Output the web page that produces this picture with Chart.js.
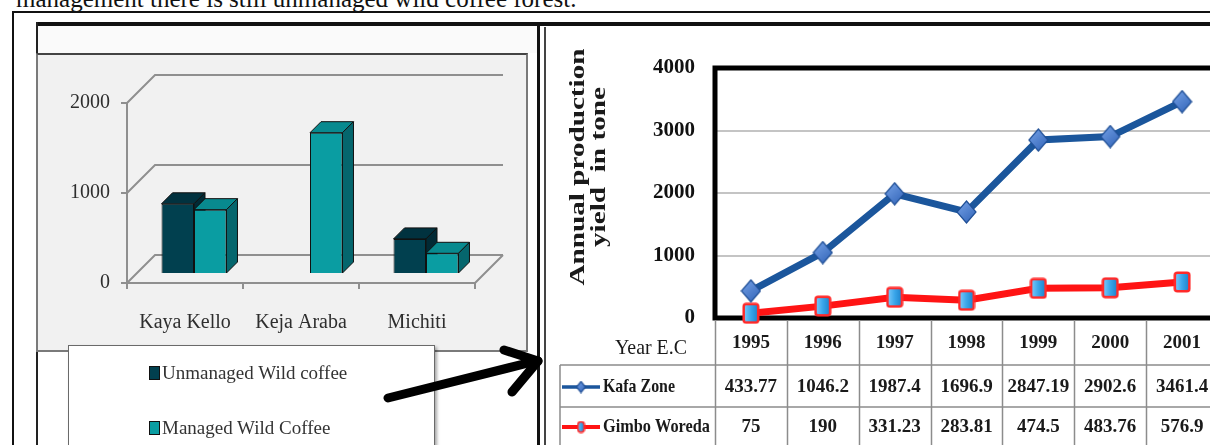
<!DOCTYPE html>
<html>
<head>
<meta charset="utf-8">
<script src="https://cdn.jsdelivr.net/npm/chart.js@4.4.1/dist/chart.umd.min.js"></script>
<style>
  html, body { margin: 0; padding: 0; }
  body { width: 1210px; height: 445px; overflow: hidden; position: relative; background: #fff;
         font-family: 'Liberation Serif', 'Times New Roman', serif; }
  .abs { position: absolute; box-sizing: border-box; }
  #caption { left: 16px; top: -14px; font-size: 25px; line-height: 25px; color: #111; white-space: nowrap; }
  #outer { left: 12px; top: 11px; width: 1250px; height: 500px; border: 2px solid #111; }
  #topRule { left: 36px; top: 22px; width: 1200px; height: 4px; background: #111; }
  #leftFrame { left: 36px; top: 22px; width: 2px; height: 500px; background: #222; }
  #headStrip { left: 38px; top: 26px; width: 500px; height: 27px; background: #fafafa; }
  #chartBox { left: 36px; top: 53px; width: 492px; height: 299px; background: #f1f1f1;
              border: 2px solid #7a7a7a; border-top-color: #444; }
  #bars { left: 38px; top: 55px; }
  #midRuleA { left: 537px; top: 22px; width: 3px; height: 500px; background: #111; }
  #midRuleB { left: 544px; top: 27px; width: 2px; height: 500px; background: #444; }
  #legend { left: 68px; top: 345px; width: 367px; height: 130px; background: #fff;
            border: 1.5px solid #6a6a6a; box-shadow: 2px 2px 3px rgba(0,0,0,0.35); }
  .item { position: absolute; left: 80px; font-size: 19px; color: #333; white-space: nowrap; line-height: 20px; }
  .swatch { display: inline-block; width: 11px; height: 14px; border: 1px solid #111; box-sizing: border-box;
            vertical-align: -1px; margin-right: 2px; }
  #lines { left: 545px; top: 25px; }
  #arrow { left: 0; top: 0; }
</style>
</head>
<body>
<div id="caption" class="abs">management there is still unmanaged wild coffee forest.</div>
<div id="outer" class="abs"></div>
<div id="topRule" class="abs"></div>
<div id="leftFrame" class="abs"></div>
<div id="headStrip" class="abs"></div>
<div id="chartBox" class="abs"></div>
<canvas id="bars" class="abs" width="488" height="295"></canvas>
<div id="midRuleA" class="abs"></div>
<div id="midRuleB" class="abs"></div>
<div id="legend" class="abs"></div>
<canvas id="lines" class="abs" width="690" height="422"></canvas>
<svg id="arrow" class="abs" width="1210" height="445" style="pointer-events:none">
  <g stroke="#000" stroke-width="9" stroke-linecap="round" fill="none">
    <line x1="388" y1="398" x2="536" y2="361"/>
    <line x1="504" y1="350" x2="538" y2="361"/>
    <line x1="512" y1="392" x2="538" y2="361"/>
  </g>
</svg>

<script>
// ---- wild coffee by site (3D column chart) ----
const sites = ['Kaya Kello', 'Keja Araba', 'Michiti'];
const unmanagedWild = [780, 0, 390];
const managedWild = [715, 1570, 230];
const siteTicks = [0, 1000, 2000];

// ---- annual production by year (line chart + data table) ----
const years = ['1995', '1996', '1997', '1998', '1999', '2000', '2001'];
const kafaZone = [433.77, 1046.2, 1987.4, 1696.9, 2847.19, 2902.6, 3461.4];
const gimboWoreda = [75, 190, 331.23, 283.81, 474.5, 483.76, 576.9];
const yieldTicks = [0, 1000, 2000, 3000, 4000];

const SERIF = "'Liberation Serif', 'Times New Roman', serif";
const plainNumber = v => String(v);

// colour sets for the columns: front, top, side
const columnColors = [
  { name: 'Unmanaged Wild coffee', front: '#01404f', top: '#01323f', side: '#012a35' },
  { name: 'Managed Wild Coffee',   front: '#0a9da2', top: '#088a8f', side: '#05666d' }
];

// legend built from the series names and colours
const legendEl = document.getElementById('legend');
columnColors.forEach((c, i) => {
  const d = document.createElement('div');
  d.className = 'item';
  d.style.top = (i === 0 ? 17 : 72) + 'px';
  d.innerHTML = '<span class="swatch" style="background:' + c.front + '"></span>' + c.name;
  legendEl.appendChild(d);
});

// ---- 3D look: back wall, side wall, floor and column depth ----
const WALL = 28;   // depth of the plot box
const SHIFT = 9;   // columns sit in the middle of the box
const BAR_D = 11;  // depth of each column

function poly(ctx, pts, fill) {
  ctx.beginPath();
  ctx.moveTo(pts[0][0], pts[0][1]);
  for (let k = 1; k < pts.length; k++) ctx.lineTo(pts[k][0], pts[k][1]);
  ctx.closePath();
  ctx.fillStyle = fill;
  ctx.fill();
  ctx.stroke();
}

const depthPlugin = {
  id: 'depth3d',
  beforeDatasetsDraw(chart) {
    const { ctx, chartArea: a, scales: { y } } = chart;
    ctx.save();
    ctx.strokeStyle = '#8f8f8f';
    ctx.lineWidth = 2;
    ctx.beginPath();
    siteTicks.forEach(v => {
      const py = y.getPixelForValue(v);
      ctx.moveTo(a.left, py);
      ctx.lineTo(a.left + WALL, py - WALL);
      ctx.lineTo(a.right + WALL, py - WALL);
    });
    const p0 = y.getPixelForValue(0);
    ctx.moveTo(a.right, p0);
    ctx.lineTo(a.right + WALL, p0 - WALL);
    ctx.stroke();
    ctx.restore();

    // shifted drawing context for the columns (restored after datasets)
    ctx.save();
    ctx.translate(SHIFT, -SHIFT);
    ctx.strokeStyle = '#111';
    ctx.lineWidth = 1;
    chart.data.datasets.forEach((ds, di) => {
      const meta = chart.getDatasetMeta(di);
      meta.data.forEach((bar, i) => {
        if (!ds.data[i]) return;
        const p = bar.getProps(['x', 'y', 'base', 'width'], true);
        const l = p.x - p.width / 2, r = p.x + p.width / 2, t = p.y, b = p.base;
        poly(ctx, [[l, t], [l + BAR_D, t - BAR_D], [r + BAR_D, t - BAR_D], [r, t]], columnColors[di].top);
        poly(ctx, [[r, t], [r + BAR_D, t - BAR_D], [r + BAR_D, b - BAR_D], [r, b]], columnColors[di].side);
      });
    });
  },
  afterDatasetsDraw(chart) {
    chart.ctx.restore();
  }
};

new Chart(document.getElementById('bars'), {
  type: 'bar',
  data: {
    labels: sites,
    datasets: [
      { label: columnColors[0].name, data: unmanagedWild, backgroundColor: columnColors[0].front,
        borderColor: '#111', borderWidth: 1, categoryPercentage: 0.56, barPercentage: 1.0 },
      { label: columnColors[1].name, data: managedWild, backgroundColor: columnColors[1].front,
        borderColor: '#111', borderWidth: 1, categoryPercentage: 0.56, barPercentage: 1.0 }
    ]
  },
  options: {
    responsive: false,
    animation: false,
    layout: { padding: { top: 48, right: 51, left: 0, bottom: 0 } },
    plugins: { legend: { display: false }, tooltip: { enabled: false } },
    scales: {
      x: {
        grid: { drawOnChartArea: false, color: '#8f8f8f', lineWidth: 2, tickLength: 6 },
        border: { color: '#8f8f8f', width: 2 },
        ticks: { color: '#2e2e2e', font: { family: SERIF, size: 20 }, padding: 22, maxRotation: 0 },
        afterFit: s => { s.height = 67; }
      },
      y: {
        min: siteTicks[0], max: siteTicks[siteTicks.length - 1],
        grid: { drawOnChartArea: false, color: '#8f8f8f', lineWidth: 2, tickLength: 6 },
        border: { color: '#8f8f8f', width: 2 },
        ticks: { stepSize: 1000, color: '#2e2e2e', font: { family: SERIF, size: 20 }, padding: 11,
                 callback: plainNumber },
        afterFit: s => { s.width = 89; }
      }
    }
  },
  plugins: [depthPlugin]
});

// ---- point markers ----
function diamondMarker(w, h) {
  const c = document.createElement('canvas');
  c.width = w; c.height = h;
  const g = c.getContext('2d');
  const grad = g.createLinearGradient(0, 0, w, h);
  grad.addColorStop(0, '#7aa6ea');
  grad.addColorStop(1, '#2c5fb4');
  g.beginPath();
  g.moveTo(w / 2, 1); g.lineTo(w - 1, h / 2); g.lineTo(w / 2, h - 1); g.lineTo(1, h / 2);
  g.closePath();
  g.fillStyle = grad; g.fill();
  g.strokeStyle = '#1f4f96'; g.lineWidth = 1.2; g.stroke();
  return c;
}
function squareMarker(w, h, lw) {
  const c = document.createElement('canvas');
  c.width = w; c.height = h;
  const g = c.getContext('2d');
  const grad = g.createLinearGradient(0, 0, w, 0);
  grad.addColorStop(0, '#8fd3ff');
  grad.addColorStop(0.5, '#3aa6ea');
  grad.addColorStop(1, '#1679c4');
  const m = lw / 2 + 0.5;
  g.beginPath();
  g.roundRect(m, m, w - 2 * m, h - 2 * m, 2.5);
  g.fillStyle = grad; g.fill();
  g.strokeStyle = '#ff2a2a'; g.lineWidth = lw; g.stroke();
  return c;
}
const diamondBig = diamondMarker(21, 24);
const squareBig = squareMarker(18, 22, 2.5);
const diamondSmall = diamondMarker(11, 13);
const squareSmall = squareMarker(9, 13, 1.8);

const KAFA_COLOR = '#1b569c';
const GIMBO_COLOR = '#ff1414';

// thick frame around the plotting area
const framePlugin = {
  id: 'plotFrame',
  beforeDatasetsDraw(chart) {
    const { ctx, chartArea: a } = chart;
    ctx.save();
    ctx.strokeStyle = '#000';
    ctx.lineWidth = 5;
    ctx.lineCap = 'square';
    ctx.beginPath();
    ctx.moveTo(a.right + 30, a.top);
    ctx.lineTo(a.left, a.top);
    ctx.lineTo(a.left, a.bottom);
    ctx.lineTo(a.right + 30, a.bottom);
    ctx.stroke();
    ctx.restore();
  }
};

function fitText(ctx, text, cx, cy, length, rotate) {
  ctx.save();
  ctx.translate(cx, cy);
  if (rotate) ctx.rotate(-Math.PI / 2);
  const w = ctx.measureText(text).width;
  ctx.scale(length / w, 1);
  ctx.textAlign = 'center';
  ctx.textBaseline = 'middle';
  ctx.fillText(text, 0, 0);
  ctx.restore();
}

// two-line rotated axis title
const titlePlugin = {
  id: 'yieldTitle',
  afterDraw(chart) {
    const ctx = chart.ctx;
    ctx.save();
    ctx.fillStyle = '#1a1a1a';
    ctx.font = 'bold 20px ' + SERIF;
    fitText(ctx, 'Annual production', 34, 142, 237, true);
    fitText(ctx, 'yield  in tone', 55, 142, 160, true);
    ctx.restore();
  }
};

// data table under the plot, aligned with the category scale
const tablePlugin = {
  id: 'dataTable',
  afterDraw(chart) {
    const { ctx, chartArea: a, scales: { x } } = chart;
    const colW = x.getPixelForValue(1) - x.getPixelForValue(0);
    const left0 = x.getPixelForValue(0) - colW / 2;
    const tableLeft = 15;
    const rowTop = [a.bottom, 340, 382, 424];
    ctx.save();
    ctx.strokeStyle = '#8c8c8c';
    ctx.lineWidth = 1.5;
    ctx.beginPath();
    for (let i = 0; i <= years.length; i++) {
      const px = Math.round(left0 + i * colW) + 0.5;
      ctx.moveTo(px, a.bottom + 2);
      ctx.lineTo(px, rowTop[3] + 5);
    }
    ctx.moveTo(tableLeft, rowTop[1]); ctx.lineTo(tableLeft, rowTop[3] + 5);
    [rowTop[1], rowTop[2], rowTop[3]].forEach(yy => {
      ctx.moveTo(tableLeft, yy); ctx.lineTo(chart.width, yy);
    });
    ctx.stroke();

    ctx.fillStyle = '#1a1a1a';
    ctx.textAlign = 'center';
    ctx.textBaseline = 'middle';

    // header row
    ctx.font = '22px ' + SERIF;
    fitText(ctx, 'Year E.C', 106, 323, 72, false);
    ctx.font = 'bold 19px ' + SERIF;
    years.forEach((yr, i) => ctx.fillText(yr, x.getPixelForValue(i), 318, colW - 8));

    // series rows
    const rows = [
      { name: 'Kafa Zone', values: kafaZone, color: KAFA_COLOR, mark: diamondSmall, lw: 3.5, cy: 362, nameW: 72 },
      { name: 'Gimbo Woreda', values: gimboWoreda, color: GIMBO_COLOR, mark: squareSmall, lw: 4, cy: 402, nameW: 107 }
    ];
    rows.forEach(r => {
      ctx.strokeStyle = r.color;
      ctx.lineWidth = r.lw;
      ctx.beginPath();
      ctx.moveTo(17, r.cy); ctx.lineTo(55, r.cy);
      ctx.stroke();
      ctx.drawImage(r.mark, 36 - r.mark.width / 2, r.cy - r.mark.height / 2);
      ctx.font = 'bold 19px ' + SERIF;
      ctx.save();
      ctx.translate(58, r.cy);
      const w = ctx.measureText(r.name).width;
      ctx.scale(r.nameW / w, 1);
      ctx.textAlign = 'left';
      ctx.fillText(r.name, 0, 0);
      ctx.restore();
      r.values.forEach((v, i) => ctx.fillText(String(v), x.getPixelForValue(i), r.cy, colW - 6));
    });
    ctx.restore();
  }
};

new Chart(document.getElementById('lines'), {
  type: 'line',
  data: {
    labels: years,
    datasets: [
      { label: 'Kafa Zone', data: kafaZone, borderColor: KAFA_COLOR, borderWidth: 7,
        pointStyle: diamondBig, pointRadius: 10, tension: 0, clip: false },
      { label: 'Gimbo Woreda', data: gimboWoreda, borderColor: GIMBO_COLOR, borderWidth: 7,
        pointStyle: squareBig, pointRadius: 10, tension: 0, clip: false }
    ]
  },
  options: {
    responsive: false,
    animation: false,
    layout: { padding: { top: 43, right: 16, bottom: 129, left: 0 } },
    plugins: { legend: { display: false }, tooltip: { enabled: false } },
    scales: {
      x: { display: false, offset: true },
      y: {
        min: yieldTicks[0], max: yieldTicks[yieldTicks.length - 1],
        ticks: { stepSize: 1000, padding: 20, color: '#111', font: { family: SERIF, size: 21, weight: 'bold' },
                 callback: plainNumber },
        grid: {
          drawTicks: false, lineWidth: 2,
          color: c => (c.tick && c.tick.value > yieldTicks[0] && c.tick.value < yieldTicks[yieldTicks.length - 1]) ? '#c4c4c4' : 'rgba(0,0,0,0)'
        },
        border: { display: false },
        afterFit: s => { s.width = 170; }
      }
    }
  },
  plugins: [framePlugin, titlePlugin, tablePlugin]
});
</script>
</body>
</html>
